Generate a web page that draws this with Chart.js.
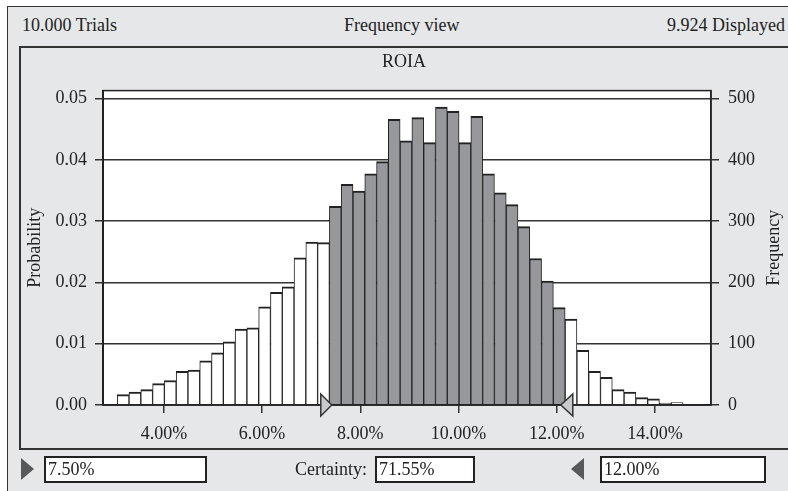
<!DOCTYPE html>
<html lang="en">
<head>
<meta charset="UTF-8">
<title>ROIA - Frequency view</title>
<script src="https://cdn.jsdelivr.net/npm/chart.js"></script>
<style>
    body {
        margin: 0;
        width: 788px;
        height: 491px;
        overflow: hidden;
        position: relative;
        background: #ffffff;
        font-family: "Liberation Serif", "Times New Roman", serif;
        font-size: 18px;
        color: #222222;
    }
    .outer {
        position: absolute;
        left: 7px; top: 6px;
        width: 800px; height: 500px;
        border: 1.5px solid #333333;
        background: #e6e7e9;
        box-sizing: border-box;
    }
    .panel {
        position: absolute;
        left: 19px; top: 46px;
        width: 790px; height: 404px;
        border: 2px solid #333333;
        box-sizing: border-box;
    }
    .txt { position: absolute; line-height: 22px; white-space: nowrap; }
    .box {
        position: absolute;
        top: 456px; height: 27px;
        border: 2px solid #222222;
        background: #ffffff;
        box-sizing: border-box;
        line-height: 23px;
        padding-left: 2px;
    }
    .tri { position: absolute; top: 458px; width: 0; height: 0; border-top: 11px solid transparent; border-bottom: 11px solid transparent; }
    canvas { position: absolute; left: 0; top: 0; }
</style>
</head>
<body>
<div class="outer"></div>
<div class="panel"></div>
<div class="txt" style="left:22px; top:14px;">10.000 Trials</div>
<div class="txt" style="left:344px; top:14px;">Frequency view</div>
<div class="txt" style="right:3px; top:14px;">9.924 Displayed</div>

<canvas id="chart" width="788" height="491"></canvas>

<div class="tri" style="left:21px; border-left:13px solid #58595b;"></div>
<div class="box" style="left:44px; width:163px;">7.50%</div>
<div class="txt" style="left:295px; top:458px;">Certainty:</div>
<div class="box" style="left:375px; width:100px;">71.55%</div>
<div class="tri" style="left:571px; border-right:13px solid #58595b;"></div>
<div class="box" style="left:600px; width:166px;">12.00%</div>

<script>
    const trials = 10000;
    // bin centres (%) and counts
    const binCenters = [
        3.17, 3.41, 3.65, 3.89, 4.13, 4.37, 4.61, 4.85, 5.09, 5.33, 5.57, 5.81,
        6.05, 6.29, 6.53, 6.77, 7.01, 7.25, 7.49, 7.73, 7.97, 8.21, 8.45, 8.69,
        8.93, 9.17, 9.41, 9.65, 9.89, 10.13, 10.37, 10.61, 10.85, 11.09, 11.33, 11.57,
        11.81, 12.05, 12.29, 12.53, 12.77, 13.01, 13.25, 13.49, 13.73, 13.97, 14.21, 14.45
    ];
    const frequencies = [
        17, 21, 25, 35, 40, 55, 57, 72, 85, 103, 124, 126,
        160, 184, 193, 240, 266, 265, 324, 360, 349, 377, 397, 466,
        431, 469, 428, 486, 479, 428, 471, 377, 346, 327, 291, 239,
        202, 159, 140, 89, 55, 45, 25, 21, 12, 10, 3, 4
    ];
    const binWidth = 0.24;
    const certLow = 7.5;
    const certHigh = 12.0;
    const xTicks = [4, 6, 8, 10, 12, 14];
    const probTicks = [0, 0.01, 0.02, 0.03, 0.04, 0.05];
    const freqTicks = [0, 100, 200, 300, 400, 500];
    const freqMax = 513;
    const leftTitle = 'Probability';
    const rightTitle = 'Frequency';

    const FONT = { family: '"Liberation Serif", "Times New Roman", serif', size: 18 };
    const INK = '#222222';
    const GRID = '#333333';

    const barColors = binCenters.map(c =>
        (c + binWidth / 2 > certLow && c - binWidth / 2 < certHigh) ? '#97989b' : '#ffffff');

    const plotFrame = {
        id: 'plotFrame',
        beforeDraw(chart) {
            const { ctx, chartArea: a } = chart;
            ctx.save();
            ctx.fillStyle = '#ffffff';
            ctx.fillRect(a.left, a.top, a.right - a.left, a.bottom - a.top);
            ctx.restore();
        },
        afterDatasetsDraw(chart) {
            const { ctx, chartArea: a } = chart;
            ctx.save();
            ctx.strokeStyle = INK;
            ctx.lineWidth = 1.5;
            ctx.strokeRect(a.left, a.top, a.right - a.left, a.bottom - a.top);
            ctx.restore();
        },
        afterDraw(chart) {
            // right axis title reads bottom-to-top like the left one
            const { ctx, chartArea: a } = chart;
            ctx.save();
            ctx.translate(774, (a.top + a.bottom) / 2);
            ctx.rotate(-Math.PI / 2);
            ctx.font = '18px ' + FONT.family;
            ctx.fillStyle = INK;
            ctx.textAlign = 'center';
            ctx.textBaseline = 'middle';
            ctx.fillText(rightTitle, 0, 0);
            ctx.restore();
        }
    };

    function triangle(ctx, pts) {
        ctx.beginPath();
        ctx.moveTo(pts[0][0], pts[0][1]);
        ctx.lineTo(pts[1][0], pts[1][1]);
        ctx.lineTo(pts[2][0], pts[2][1]);
        ctx.closePath();
        ctx.fill();
        ctx.stroke();
    }

    const certaintyMarkers = {
        id: 'certaintyMarkers',
        afterDraw(chart) {
            const { ctx, chartArea: a, scales: { x } } = chart;
            const y = a.bottom;
            ctx.save();
            ctx.fillStyle = '#c9cacc';
            ctx.strokeStyle = '#333333';
            ctx.lineWidth = 1.5;
            const lx = x.getPixelForValue(certLow) - 4;
            triangle(ctx, [[lx, y], [lx - 11, y - 11], [lx - 11, y + 11]]);
            const hx = x.getPixelForValue(certHigh) + 4;
            triangle(ctx, [[hx, y], [hx + 12, y - 11], [hx + 12, y + 11]]);
            ctx.restore();
        }
    };

    new Chart(document.getElementById('chart'), {
        type: 'bar',
        data: {
            datasets: [{
                label: 'ROIA',
                data: binCenters.map((c, i) => ({ x: c, y: frequencies[i] })),
                xAxisID: 'x',
                yAxisID: 'yFreq',
                backgroundColor: barColors,
                borderColor: INK,
                borderWidth: { top: 2, left: 1, right: 1, bottom: 0 },
                barPercentage: 1,
                categoryPercentage: 1
            }]
        },
        options: {
            responsive: false,
            animation: false,
            layout: { padding: { left: 20, right: 0, top: 47, bottom: 0 } },
            scales: {
                x: {
                    type: 'linear',
                    position: 'bottom',
                    min: 2.76,
                    max: 15.14,
                    offset: false,
                    afterBuildTicks: s => { s.ticks = xTicks.map(v => ({ value: v })); },
                    afterFit: s => { s.height = 86; },
                    grid: { offset: false, drawOnChartArea: false, tickLength: 8, color: GRID, lineWidth: 1.5 },
                    border: { color: INK, width: 1.5 },
                    ticks: { font: FONT, color: INK, padding: 10, maxRotation: 0,
                        callback: v => v.toFixed(2) + '%' }
                },
                yProb: {
                    type: 'linear',
                    position: 'left',
                    min: 0,
                    max: freqMax / trials,
                    afterBuildTicks: s => { s.ticks = probTicks.map(v => ({ value: v })); },
                    afterFit: s => { s.width = 83; },
                    grid: { color: GRID, lineWidth: 1.5, tickLength: 8 },
                    border: { color: INK, width: 2 },
                    ticks: { font: FONT, color: INK, padding: 8, callback: v => v.toFixed(2) },
                    title: { display: true, text: leftTitle, font: FONT, color: INK, padding: { top: 4, bottom: 0 } }
                },
                yFreq: {
                    type: 'linear',
                    position: 'right',
                    min: 0,
                    max: freqMax,
                    afterBuildTicks: s => { s.ticks = freqTicks.map(v => ({ value: v })); },
                    afterFit: s => { s.width = 77; },
                    grid: { drawOnChartArea: false, color: GRID, lineWidth: 1.5, tickLength: 8 },
                    border: { color: INK, width: 1.5 },
                    ticks: { font: FONT, color: INK, padding: 9 }
                }
            },
            plugins: {
                legend: { display: false },
                tooltip: { enabled: false },
                title: { display: true, text: 'ROIA', font: { ...FONT, weight: 'normal' }, color: INK,
                    padding: { top: 4, bottom: 18 } }
            }
        },
        plugins: [plotFrame, certaintyMarkers]
    });
</script>
</body>
</html>
